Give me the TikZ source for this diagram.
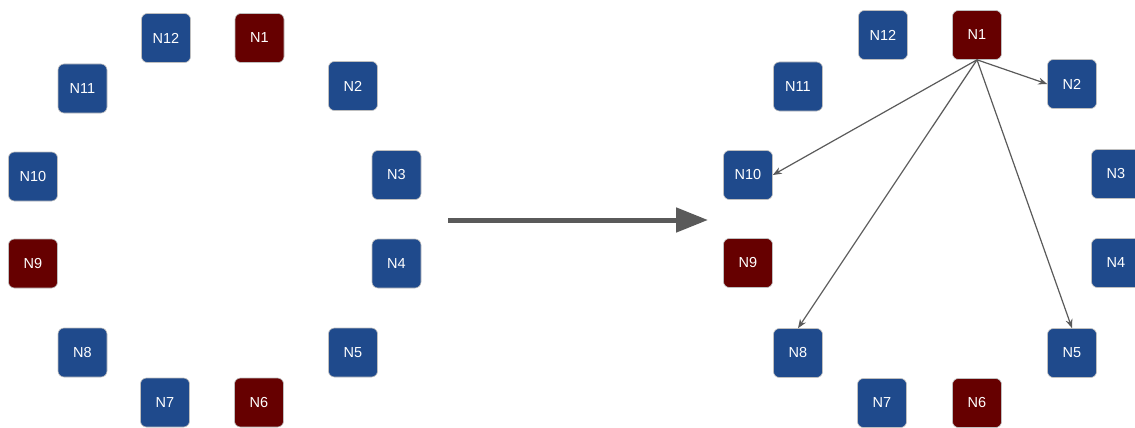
\documentclass[tikz,border=0pt]{standalone}
\usepackage{fontspec}
\setmainfont{Liberation Sans}
\usetikzlibrary{arrows.meta}
\definecolor{nblue}{HTML}{1F4A8C}
\definecolor{nred}{HTML}{660000}
\definecolor{edgegrey}{HTML}{5A5A5A}
\begin{document}
\begin{tikzpicture}[x=1pt,y=-1pt,
  nodebox/.style={draw=black!25, line width=0.6pt, rounded corners=6pt,
    minimum width=49pt, minimum height=49pt, inner sep=0pt, text=white,
    font=\fontsize{14.5}{17}\selectfont},
  bluebox/.style={nodebox, fill=nblue},
  redbox/.style={nodebox, fill=nred},
  link/.style={draw=edgegrey, line width=1.2pt, -{Stealth[length=9pt,width=7pt]}},
  bigarrow/.style={draw=edgegrey, line width=5pt, -{Triangle[length=32pt,width=24pt]}}
]
\useasboundingbox (0,0) rectangle (1135,428);
% left ring
\node[redbox]  (a1)  at (259.5,38) {N1};
\node[bluebox] (a2)  at (353,86) {N2};
\node[bluebox] (a3)  at (396.5,175) {N3};
\node[bluebox] (a4)  at (396.5,263.5) {N4};
\node[bluebox] (a5)  at (353,352.5) {N5};
\node[redbox]  (a6)  at (259,402.5) {N6};
\node[bluebox] (a7)  at (165,402.5) {N7};
\node[bluebox] (a8)  at (82.5,352.5) {N8};
\node[redbox]  (a9)  at (33,263.5) {N9};
\node[bluebox] (a10) at (33,176.5) {N10};
\node[bluebox] (a11) at (82.5,88.5) {N11};
\node[bluebox] (a12) at (166,38) {N12};
% transition arrow
\coordinate (s) at (448,220);
\coordinate (t) at (708,220);
\draw[bigarrow] (s) -- (t);
% right ring
\node[redbox]  (b1)  at (977,35) {N1};
\node[bluebox] (b2)  at (1072,84) {N2};
\node[bluebox] (b3)  at (1116,174) {N3};
\node[bluebox] (b4)  at (1116,263) {N4};
\node[bluebox] (b5)  at (1072,353) {N5};
\node[redbox]  (b6)  at (977,403) {N6};
\node[bluebox] (b7)  at (882,403) {N7};
\node[bluebox] (b8)  at (798,353) {N8};
\node[redbox]  (b9)  at (748,263) {N9};
\node[bluebox] (b10) at (748,175) {N10};
\node[bluebox] (b11) at (798,86.5) {N11};
\node[bluebox] (b12) at (883,35) {N12};
% links
\draw[link] (b1.south) -- (b2.west);
\draw[link] (b1.south) -- (b10.east);
\draw[link] (b1.south) -- (b8.north);
\draw[link] (b1.south) -- (b5.north);
\end{tikzpicture}
\end{document}
